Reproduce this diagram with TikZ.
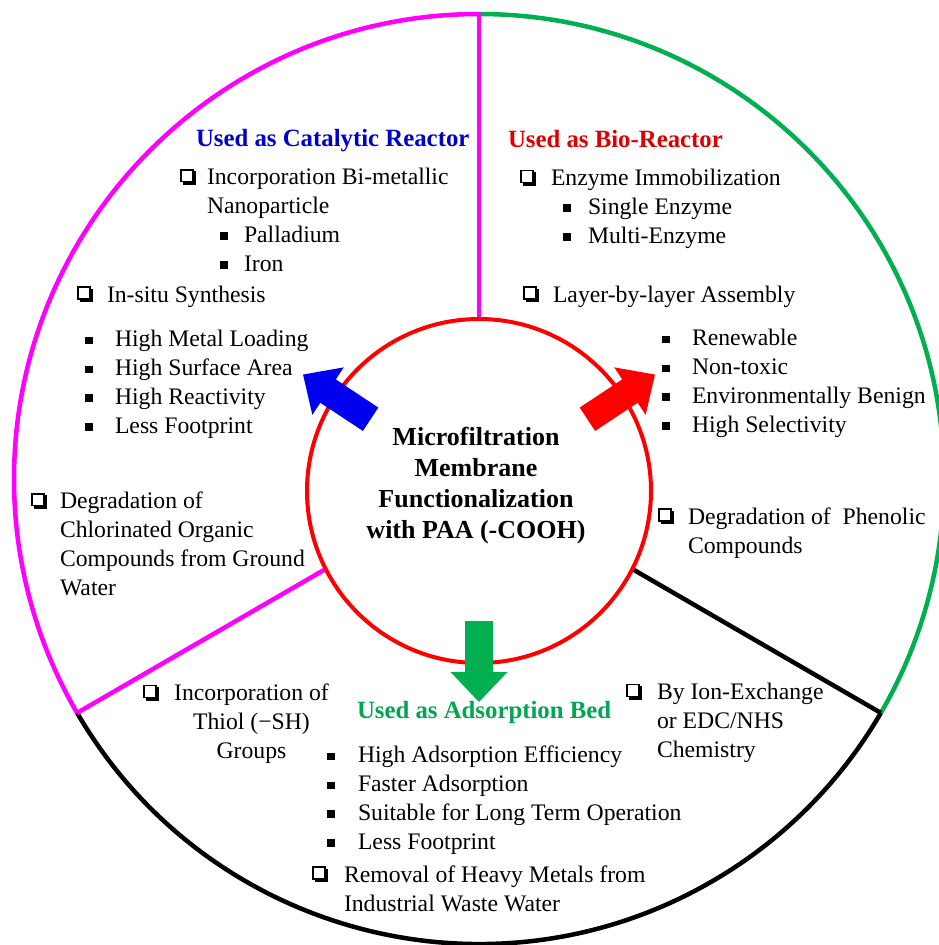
\documentclass[tikz,border=0pt]{standalone}
\usepackage{fontspec}
\setmainfont{Liberation Serif}
\definecolor{mag}{RGB}{255,0,255}
\definecolor{grn}{RGB}{0,176,80}
\definecolor{ttlblue}{RGB}{0,0,204}
\definecolor{ttlred}{RGB}{220,0,0}
\definecolor{ttlgreen}{RGB}{0,166,80}
\definecolor{arrblue}{RGB}{0,0,240}
\newcommand\qglyph{{\setlength\unitlength{1pt}\begin{picture}(16,16)
\put(0,2.5){\rule{1.6pt}{13.5pt}}
\put(0,14.4){\rule{13.5pt}{1.6pt}}
\put(11.9,2.5){\rule{1.6pt}{13.5pt}}
\put(0,2.5){\rule{13.5pt}{1.6pt}}
\put(2.5,0){\rule{13.5pt}{2.5pt}}
\put(13.5,0){\rule{2.5pt}{13.5pt}}
\end{picture}}}
\newcommand\qbx[1][30]{\makebox[#1pt][l]{\qglyph}}
\newcommand\sqb[1][30]{\makebox[#1pt][l]{\rule[2.5pt]{7.5pt}{7.5pt}}}
\newcommand\blockarr[2]{\fill[#1, shift={(479,-491)}, rotate=#2] (130,-14) -- (181,-14) -- (181,-28.5) -- (211,0) -- (181,28.5) -- (181,14) -- (130,14) -- cycle;}
\begin{document}
\begin{tikzpicture}[x=1pt,y=1pt,
  txt/.style={inner sep=0pt, outer sep=0pt, align=left, anchor=base west, font=\fontsize{23.7}{28.7}\selectfont},
  ttl/.style={inner sep=0pt, outer sep=0pt, anchor=base west, font=\fontsize{24.8}{29}\selectfont\bfseries},
  ring/.style={line width=4.5pt}]
\useasboundingbox (0,0) rectangle (938,-945);
\fill[white] (0,0) rectangle (938,-945);
\coordinate (O) at (479,-479);
\path (O) ++(90:465) coordinate (ptop);
\path (O) ++(210.2:465) coordinate (pleft);
\path (O) ++(-30.2:465) coordinate (pright);
\node[circle, draw=red, line width=4pt, minimum size=344pt, inner sep=0pt] (hub) at (479,-491) {};
% outer ring
\draw[ring, grn] (ptop) arc[start angle=90, end angle=-30.2, radius=465];
\draw[ring, mag] (ptop) arc[start angle=90, end angle=210.2, radius=465];
\draw[ring, black] (pleft) arc[start angle=210.2, end angle=329.8, radius=465];
% dividers
\draw[ring, mag] (ptop) -- (hub.90);
\draw[ring, mag] (pleft) -- (hub.207.5);
\draw[ring, black] (pright) -- (hub.-27.5);
% block arrows
\blockarr{arrblue}{146.5}
\blockarr{red}{33.5}
\blockarr{grn}{270}
% centre text (anchor = baseline of last line)
\node[inner sep=0pt, align=center, anchor=base, font=\fontsize{26}{31}\selectfont\bfseries] (ctr) at (476,-538) {Microfiltration\\Membrane\\Functionalization\\with PAA (-COOH)};
% titles
\node[ttl, text=ttlblue] (tcat) at (196,-146) {Used as Catalytic Reactor};
\node[ttl, text=ttlred] (tbio) at (508,-147) {Used as Bio-Reactor};
\node[ttl, text=ttlgreen] (tads) at (357,-718) {Used as Adsorption Bed};
% catalytic reactor
\node[txt] (cat1) at (180,-271) {\qbx[27]Incorporation Bi-metallic\\\hspace*{27pt}Nanoparticle\\\hspace*{40pt}\sqb[24]Palladium\\\hspace*{40pt}\sqb[24]Iron};
\node[txt] (cat2) at (77,-433) {\qbx[30]In-situ Synthesis\\[16pt]\hspace*{8pt}\sqb[30]High Metal Loading\\\hspace*{8pt}\sqb[30]High Surface Area\\\hspace*{8pt}\sqb[30]High Reactivity\\\hspace*{8pt}\sqb[30]Less Footprint};
\node[txt] (cat3) at (31,-595) {\qbx[29]Degradation of\\\hspace*{29pt}Chlorinated Organic\\\hspace*{29pt}Compounds from Ground\\\hspace*{29pt}Water};
% bio-reactor
\node[txt] (bio1) at (520,-243) {\qbx[31]Enzyme Immobilization\\\hspace*{43pt}\sqb[25]Single Enzyme\\\hspace*{43pt}\sqb[25]Multi-Enzyme};
\node[txt] (bio2) at (523,-302) {\qbx[30]Layer-by-layer Assembly};
\node[txt] (bio3) at (662,-432) {\sqb[30]Renewable\\\sqb[30]Non-toxic\\\sqb[30]Environmentally Benign\\\sqb[30]High Selectivity};
\node[txt] (bio4) at (658,-553) {\qbx[30]Degradation of\ \ Phenolic\\\hspace*{30pt}Compounds};
% adsorption bed
\node[txt] (ads1) at (626,-757) {\qbx[31]By Ion-Exchange\\\hspace*{31pt}or EDC/NHS\\\hspace*{31pt}Chemistry};
\node[txt, align=center, anchor=base] (ads2) at (251.5,-758) {\llap{\qbx[31]}Incorporation of\\Thiol (−SH)\\Groups};
\node[txt] (ads3) at (327,-849) {\sqb[31]High Adsorption Efficiency\\\sqb[31]Faster Adsorption\\\sqb[31]Suitable for Long Term Operation\\\sqb[31]Less Footprint};
\node[txt] (ads4) at (312,-911) {\qbx[32]Removal of Heavy Metals from\\\hspace*{32pt}Industrial Waste Water};
\end{tikzpicture}
\end{document}
